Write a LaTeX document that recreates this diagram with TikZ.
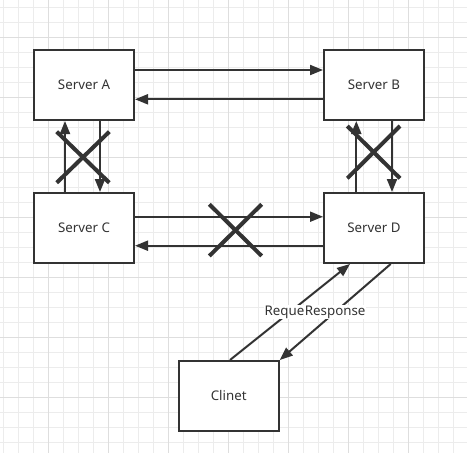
\documentclass[tikz,border=0pt]{standalone}
\usepackage{fontspec}
\setmainfont{Noto Sans}
\usetikzlibrary{arrows.meta}
\definecolor{ink}{RGB}{51,51,51}
\definecolor{gridminor}{RGB}{236,236,236}
\definecolor{gridmajor}{RGB}{222,222,222}
\tikzset{
  box/.style={draw=ink, line width=2pt, fill=white, minimum width=100pt, minimum height=70pt, inner sep=0pt, text=ink, font=\fontsize{13.3}{15}\selectfont},
  arr/.style={draw=ink, line width=2pt, -{Triangle[length=13pt,width=10pt]}},
  plain/.style={draw=ink, line width=2pt},
  crossmark/.style={draw=ink, line width=4pt},
  lbl/.style={fill=white, inner sep=1pt, text=ink, font=\fontsize{13.3}{15}\selectfont},
}
\begin{document}
\begin{tikzpicture}[x=1pt,y=-1pt]
\useasboundingbox (0,0) rectangle (467,453);
\fill[white] (0,0) rectangle (467,453);
% grid
\foreach \gx in {3.3,18.3,...,467} \draw[gridminor, line width=1pt] (\gx,0) -- (\gx,453);
\foreach \gy in {7.3,22.3,...,453} \draw[gridminor, line width=1pt] (0,\gy) -- (467,\gy);
\foreach \gx in {48.3,108.3,...,467} \draw[gridmajor, line width=1pt] (\gx,0) -- (\gx,453);
\foreach \gy in {37.3,97.3,...,453} \draw[gridmajor, line width=1pt] (0,\gy) -- (467,\gy);
% nodes
\node[box] (A) at (84,85) {Server A};
\node[box] (B) at (374,85) {Server B};
\node[box] (C) at (84,228) {Server C};
\node[box] (D) at (374,228) {Server D};
\node[box] (E) at (228.7,396) {Clinet};
% A <-> B
\draw[arr] ([yshift=15pt]A.east) -- ([yshift=15pt]B.west);
\draw[arr] ([yshift=-14.3pt]B.west) -- ([yshift=-14.3pt]A.east);
% A <-> C
\draw[arr] ([xshift=-19pt]C.north) -- ([xshift=-19pt]A.south);
\draw[arr] ([xshift=16pt]A.south) -- ([xshift=16pt]C.north);
% B <-> D
\draw[arr] ([xshift=-17.7pt]D.north) -- ([xshift=-17.7pt]B.south);
\draw[arr] ([xshift=18pt]B.south) -- ([xshift=18pt]D.north);
% C <-> D
\draw[arr] ([yshift=11.3pt]C.east) -- ([yshift=11.3pt]D.west);
\draw[arr] ([yshift=-17.7pt]D.west) -- ([yshift=-17.7pt]C.east);
% client
\draw[arr] ([xshift=1.3pt]E.north) -- node[lbl] (rq) {Request} ([xshift=-24pt]D.south);
\draw[arr] ([xshift=16.7pt]D.south) -- node[lbl] (rs) {Response} (E.north east);
% crosses
\draw[crossmark] (56.7,131.7) -- (109.3,182.7);
\draw[crossmark] (56.7,182.7) -- (109.3,131.7);
\draw[crossmark] (347.3,126) -- (400,178.3);
\draw[crossmark] (347.3,178.3) -- (400,126);
\draw[crossmark] (209.3,204.3) -- (261.7,256);
\draw[crossmark] (209.3,256) -- (261.7,204.3);
\end{tikzpicture}
\end{document}
